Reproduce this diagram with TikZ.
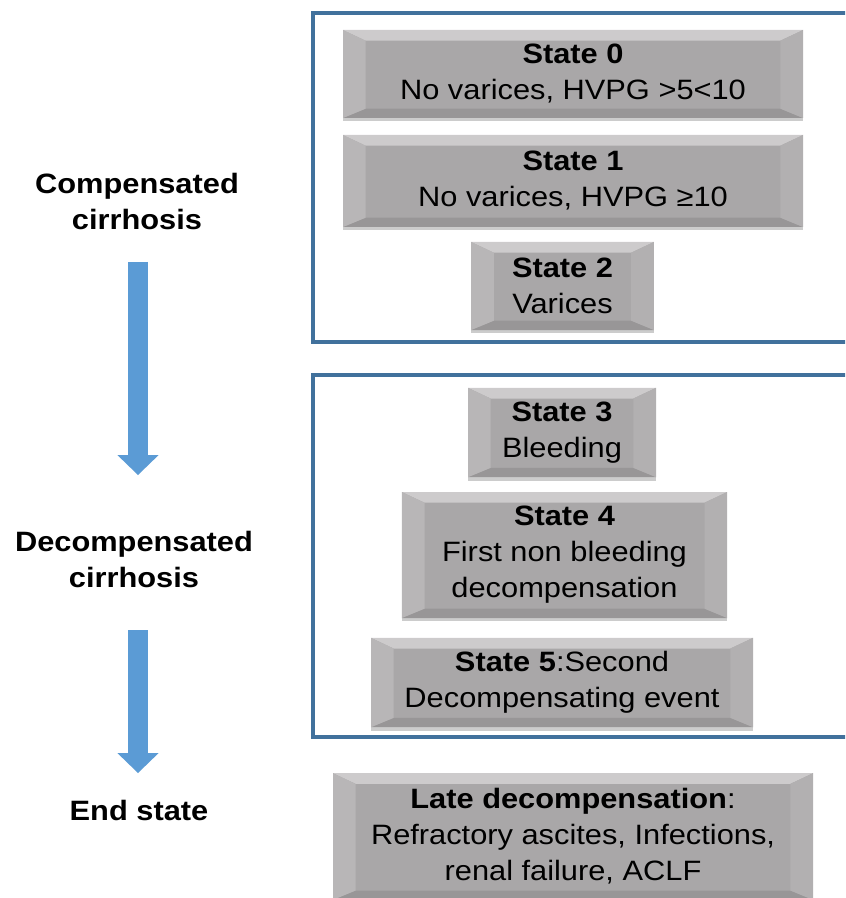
\documentclass[tikz,border=0pt]{standalone}
\usepackage{fontspec}
\setmainfont[FakeStretch=1.1]{Liberation Sans}
\usetikzlibrary{arrows.meta,shadows}

\definecolor{facegray}{HTML}{A9A7A8}
\definecolor{bevlight}{HTML}{CDCBCC}
\definecolor{bevleft}{HTML}{B8B6B7}
\definecolor{bevright}{HTML}{B2B0B1}
\definecolor{bevdark}{HTML}{989697}
\definecolor{panelblue}{HTML}{41719C}
\definecolor{arrowblue}{HTML}{5B9BD5}

\tikzset{
  stage/.style={rectangle, fill=facegray, inner sep=0pt, align=center,
    font=\fontsize{21}{27}\selectfont,
    drop shadow={shadow xshift=0pt, shadow yshift=-2.5pt, fill=black, opacity=0.2},
    path picture={
      \coordinate (bsw) at (path picture bounding box.south west);
      \coordinate (bne) at (path picture bounding box.north east);
      \coordinate (bnw) at (path picture bounding box.north west);
      \coordinate (bse) at (path picture bounding box.south east);
      \fill[bevlight] (bnw) -- (bne) -- ([shift={(-17pt,-8pt)}]bne) -- ([shift={(17pt,-8pt)}]bnw) -- cycle;
      \fill[bevdark] (bsw) -- (bse) -- ([shift={(-17pt,7pt)}]bse) -- ([shift={(17pt,7pt)}]bsw) -- cycle;
      \fill[bevleft] (bsw) -- (bnw) -- ([shift={(17pt,-8pt)}]bnw) -- ([shift={(17pt,7pt)}]bsw) -- cycle;
      \fill[bevright] (bse) -- (bne) -- ([shift={(-17pt,-8pt)}]bne) -- ([shift={(-17pt,7pt)}]bse) -- cycle;
    }},
  phase/.style={align=center, font=\bfseries\fontsize{21}{27}\selectfont},
  panel/.style={draw=panelblue, line width=3pt},
  flow/.style={draw=arrowblue, line width=15pt, -{Triangle[width=31pt,length=15pt,line width=0pt]}}
}

\begin{document}
\begin{tikzpicture}[x=0.75pt,y=-0.75pt]

\useasboundingbox (0,0) rectangle (845,898);
\clip (0,0) rectangle (845,898);

\draw[panel] (313,13) rectangle (870,342);
\draw[panel] (313,375) rectangle (870,737);

\node[phase] (comp) at (137,201) {Compensated\\cirrhosis};
\node[phase] (decomp) at (134,559) {Decompensated\\cirrhosis};
\node[phase] (endst) at (139,810) {End state};

\coordinate (flowa) at (138,262);
\coordinate (flowb) at (138,475);
\coordinate (flowc) at (138,630);
\coordinate (flowd) at (138,773);
\draw[flow] (flowa) -- (flowb);
\draw[flow] (flowc) -- (flowd);

\node[stage, minimum width=345pt, minimum height=66pt] (s0) at (573,74)
  {\textbf{State 0}\\No varices, HVPG >5<10};
\node[stage, minimum width=345pt, minimum height=69pt] (s1) at (573,181)
  {\textbf{State 1}\\No varices, HVPG ≥10};
\node[stage, minimum width=137pt, minimum height=66pt] (s2) at (562.5,286)
  {\textbf{State 2}\\Varices};

\node[stage, minimum width=141pt, minimum height=67pt] (s3) at (562,432.5)
  {\textbf{State 3}\\Bleeding};
\node[stage, minimum width=244pt, minimum height=94.5pt] (s4) at (564.5,555)
  {\textbf{State 4}\\First non bleeding\\decompensation};
\node[stage, minimum width=286.5pt, minimum height=67pt] (s5) at (562,682.5)
  {\textbf{State 5}:Second\\Decompensating event};

\node[stage, minimum width=360pt, minimum height=95pt] (late) at (573,836.5)
  {\textbf{Late decompensation}:\\Refractory ascites, Infections,\\renal failure, ACLF};

\end{tikzpicture}
\end{document}
